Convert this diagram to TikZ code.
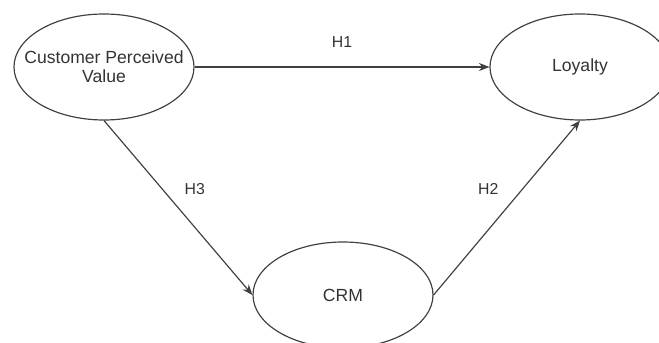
\documentclass[tikz,border=0pt]{standalone}
\usepackage{fontspec}
\setmainfont{Liberation Sans}
\usetikzlibrary{arrows.meta}
\usetikzlibrary{shapes.geometric}

\begin{document}
\begin{tikzpicture}[x=0.03cm, y=-0.03cm,
        every node/.style={text=black!80},
        construct/.style={ellipse, draw=black!75, line width=1pt, fill=white,
            minimum width=5.4cm, minimum height=3.18cm,
            inner xsep=-0.6cm, inner ysep=0pt,
            align=center, font=\fontsize{15}{16}\selectfont},
        hypo/.style={draw=black!75, line width=1pt,
            -{Stealth[length=9pt, width=7pt]}},
        hlabel/.style={font=\fontsize{13.5}{15}\selectfont}]
            \useasboundingbox (0,0) rectangle (659,343);

            % constructs
            \node[construct] (cpv) at (104,67) {Customer Perceived\\Value};
            \node[construct] (loyalty) at (580,67) {Loyalty};
            \node[construct] (crm) at (343,295) {CRM};

            % hypotheses
            \draw[hypo] (cpv.east) -- (loyalty.west)
                node[hlabel, midway, above=0.45cm] (h1) {H1};
            \draw[hypo] (cpv.south) -- (crm.west)
                node[hlabel, pos=0.39, right=0.55cm] (h3) {H3};
            \draw[hypo] (crm.east) -- (loyalty.south)
                node[hlabel, pos=0.61, left=0.6cm] (h2) {H2};
        \end{tikzpicture}
\end{document}
